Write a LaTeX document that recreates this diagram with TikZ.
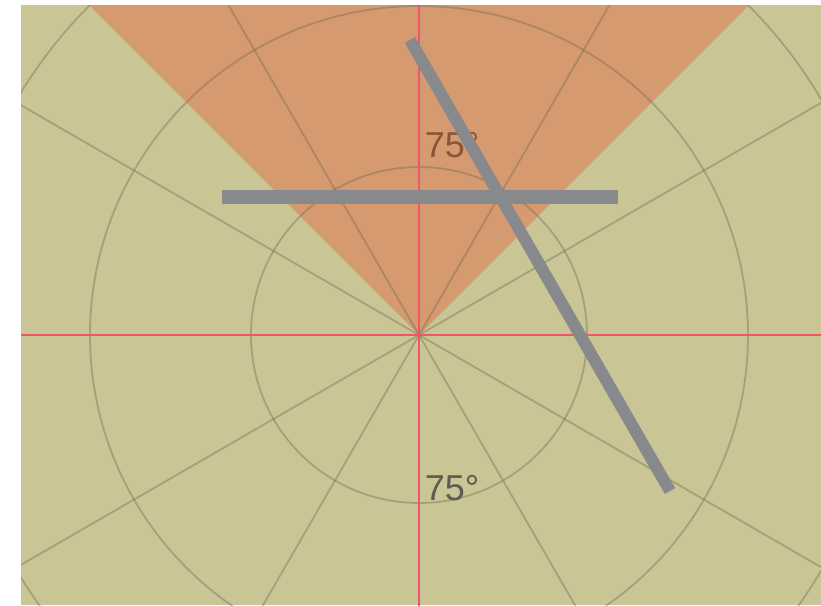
\documentclass[tikz,border=0pt]{standalone}
\usepackage{fontspec}
\setmainfont{Liberation Sans}
\definecolor{bgk}{HTML}{C9C595}
\definecolor{wedgec}{HTML}{D59A6F}
\definecolor{gridc}{HTML}{6E6650}
\definecolor{crossc}{HTML}{F0566A}
\definecolor{barc}{HTML}{87898D}
\definecolor{lblup}{HTML}{8A5638}
\definecolor{lbldown}{HTML}{5C5B52}
\begin{document}
\begin{tikzpicture}[x=1pt,y=-1pt,
  gridline/.style={draw=gridc, opacity=0.38, line width=1.8pt},
  crossline/.style={draw=crossc, line width=2.2pt},
  barline/.style={draw=barc, line cap=butt},
  lbl/.style={font=\fontsize{36}{40}\selectfont, inner sep=0pt}]
\useasboundingbox (0,0) rectangle (821,605);
\fill[white] (0,0) rectangle (821,605);
\coordinate (c) at (419,335);
\begin{scope}
  \clip (21,5) rectangle (821,605);
  \fill[bgk] (21,5) rectangle (821,605);
  \fill[wedgec] (c) -- ++(-400,-400) -- ++(800,0) -- cycle;
  \draw[gridline] (c) circle[radius=168];
  \draw[gridline] (c) circle[radius=329];
  \draw[gridline] (c) circle[radius=466];
  \foreach \a in {30,60,120,150,210,240,300,330}
    \draw[gridline] (c) -- ++(\a:700);
  \draw[crossline] (419,-10) -- (419,620);
  \draw[crossline] (0,335) -- (830,335);
\end{scope}
\node[lbl, text=lblup] (t1) at (452,145) {75°};
\node[lbl, text=lbldown] (t2) at (452,488) {75°};
\coordinate (h1) at (222,197);
\coordinate (h2) at (618,197);
\coordinate (s1) at (410,40);
\coordinate (s2) at (670,491);
\draw[barline, line width=14pt] (h1) -- (h2);
\draw[barline, line width=12pt] (s1) -- (s2);
\end{tikzpicture}
\end{document}
